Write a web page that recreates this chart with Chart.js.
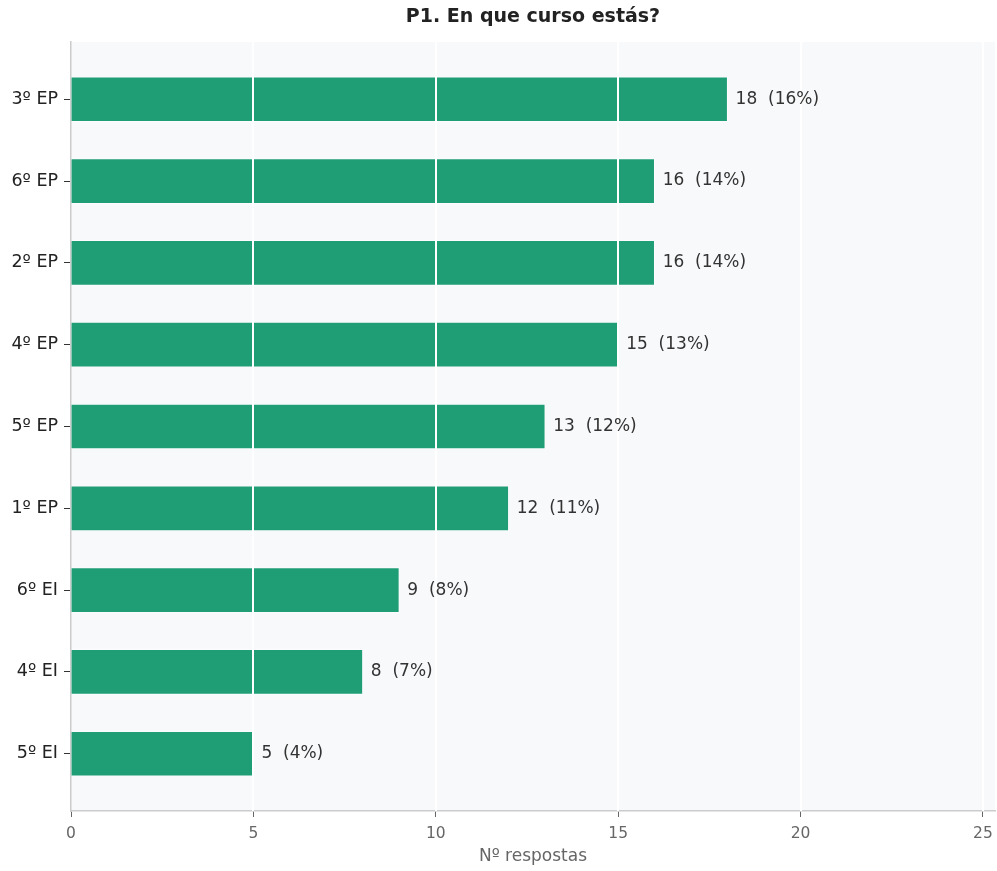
<!DOCTYPE html>
<html>
<head>
<meta charset="utf-8">
<script src="https://cdn.jsdelivr.net/npm/chart.js@4/dist/chart.umd.min.js"></script>
<style>
  html, body { margin: 0; padding: 0; background: #fff; }
  #wrap { width: 997px; height: 871px; }
</style>
</head>
<body>
<div id="wrap"><canvas id="chart"></canvas></div>
<script>
// data, top to bottom
const courses = ['3º EP', '6º EP', '2º EP', '4º EP', '5º EP', '1º EP', '6º EI', '4º EI', '5º EI'];
const answers = [18, 16, 16, 15, 13, 12, 9, 8, 5];
const percents = [16, 14, 14, 13, 12, 11, 8, 7, 4];
const xTicks = [0, 5, 10, 15, 20, 25];

const barColor = '#1f9e75';
const font = 'DejaVu Sans';

// plot background
const plotBg = {
    id: 'plotBg',
    beforeDraw(chart) {
        const { ctx, chartArea: a } = chart;
        ctx.save();
        ctx.fillStyle = '#f8f9fb';
        ctx.fillRect(a.left, a.top, a.right - a.left, a.bottom - a.top);
        ctx.restore();
    }
};

// white grid lines over the bars + value labels
const overlay = {
    id: 'overlay',
    afterDatasetsDraw(chart) {
        const { ctx, chartArea: a, scales } = chart;
        ctx.save();
        ctx.strokeStyle = '#ffffff';
        ctx.lineWidth = 2;
        xTicks.forEach(v => {
            if (v === 0) return;
            const x = Math.round(scales.x.getPixelForValue(v));
            ctx.beginPath();
            ctx.moveTo(x, a.top);
            ctx.lineTo(x, a.bottom);
            ctx.stroke();
        });

        ctx.fillStyle = '#333333';
        ctx.font = '17px "' + font + '"';
        ctx.textBaseline = 'middle';
        ctx.textAlign = 'left';
        chart.getDatasetMeta(0).data.forEach((bar, i) => {
            ctx.fillText(answers[i] + '  (' + percents[i] + '%)', bar.x + 8, bar.y);
        });
        ctx.restore();
    }
};

new Chart(document.getElementById('chart'), {
    type: 'bar',
    data: {
        datasets: [{
            data: answers.map((v, i) => ({ x: v, y: i })),
            backgroundColor: barColor,
            borderColor: 'rgba(255,255,255,0.55)',
            borderWidth: 1,
            barThickness: 45
        }]
    },
    options: {
        indexAxis: 'y',
        responsive: true,
        maintainAspectRatio: false,
        animation: false,
        layout: { padding: { left: 0, right: 2, top: 0, bottom: 0 } },
        plugins: {
            legend: { display: false },
            tooltip: { enabled: false },
            title: {
                display: true,
                text: 'P1. En que curso estás?',
                fullSize: false,
                color: '#222222',
                font: { family: font, size: 19, weight: 'bold' },
                padding: { top: 6, bottom: 13.2 }
            }
        },
        scales: {
            x: {
                type: 'linear',
                min: 0,
                max: 25.33,
                afterBuildTicks(scale) { scale.ticks = xTicks.map(v => ({ value: v })); },
                afterFit(scale) { scale.height = 60; scale.paddingRight = 0; scale.paddingLeft = 0; },
                border: { color: '#cccccc', width: 1.5 },
                grid: { drawOnChartArea: false, color: '#666666', tickLength: 6 },
                ticks: { color: '#666666', padding: 8, font: { family: font, size: 15.5 } },
                title: {
                    display: true,
                    text: 'Nº respostas',
                    color: '#666666',
                    font: { family: font, size: 17 },
                    padding: { top: 0, bottom: 4 }
                }
            },
            y: {
                type: 'linear',
                reverse: true,
                offset: false,
                min: -0.7,
                max: courses.length - 0.3,
                afterBuildTicks(scale) { scale.ticks = courses.map((c, i) => ({ value: i })); },
                afterFit(scale) { scale.width = 71; },
                border: { color: '#cccccc', width: 1.5 },
                grid: { offset: false, drawOnChartArea: false, color: '#333333', tickLength: 7 },
                ticks: {
                    color: '#222222',
                    padding: 6,
                    font: { family: font, size: 17.5 },
                    callback: v => courses[v]
                }
            }
        }
    },
    plugins: [plotBg, overlay]
});
</script>
</body>
</html>
